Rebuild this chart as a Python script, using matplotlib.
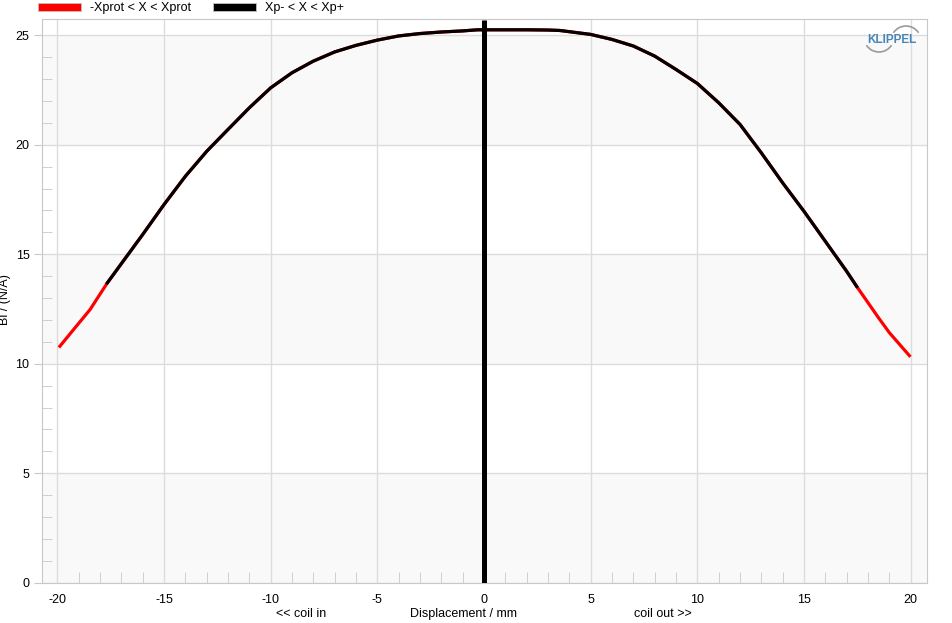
import matplotlib
matplotlib.use("Agg")
import matplotlib.pyplot as plt
from matplotlib.patches import Patch, Arc

plt.rcParams['font.family'] = ['Liberation Sans', 'DejaVu Sans']
plt.rcParams['axes.unicode_minus'] = False

# Bl(x) curve
disp = [-19.88, -19.25, -18.47, -17.66, -17, -16, -15, -14, -13, -12, -11, -10,
        -9, -8, -7, -6, -5, -4, -3, -2, -1, -0.3, 0, 1, 2, 3, 3.55, 5, 6, 7, 8,
        9, 10, 11, 12, 13, 14, 15, 16, 17, 17.47, 18.5, 19, 19.94]
bl = [10.8, 11.55, 12.47, 13.69, 14.57, 15.9, 17.27, 18.56, 19.7, 20.7, 21.69,
      22.6, 23.29, 23.82, 24.24, 24.54, 24.78, 24.97, 25.08, 25.15, 25.2, 25.25,
      25.25, 25.25, 25.25, 25.24, 25.22, 25.04, 24.81, 24.51, 24.05, 23.44, 22.8,
      21.92, 20.93, 19.63, 18.26, 16.96, 15.59, 14.22, 13.53, 12.09, 11.42, 10.37]
xp_minus = -17.66
xp_plus = 17.47
bands = [(0, 5), (10, 15), (20, 25)]
xticks = [-20, -15, -10, -5, 0, 5, 10, 15, 20]
yticks = [0, 5, 10, 15, 20, 25]

W, H = 953, 623
fig = plt.figure(figsize=(W / 100, H / 100), dpi=100)
ax = fig.add_axes([42 / W, 1 - 582.7 / H, 885.3 / W, 563.4 / H])

for lo, hi in bands:
    ax.axhspan(lo, hi, color='#f9f9f9', zorder=0, lw=0)

ax.plot(disp, bl, color='#ff0000', lw=2.3, zorder=3)
bx = [x for x in disp if xp_minus <= x <= xp_plus]
by = [y for x, y in zip(disp, bl) if xp_minus <= x <= xp_plus]
ax.plot(bx, by, color='black', lw=2.3, zorder=4)
ax.plot([0, 0], [0, 25.7], color='black', lw=3.6, zorder=5, solid_capstyle='butt')

ax.set_xlim(-20.72, 20.78)
ax.set_ylim(0, 25.73)
ax.set_xticks(xticks)
ax.set_yticks(yticks)
ax.set_xticks(range(-20, 21), minor=True)
ax.set_yticks(range(0, 26), minor=True)
ax.grid(True, which='major', color='#dcdcdc', lw=1, zorder=1)
ax.set_axisbelow(True)
for s in ax.spines.values():
    s.set_color('#c8c8c8')
ax.tick_params(axis='x', which='major', length=0, pad=8, labelsize=9)
ax.tick_params(axis='x', which='minor', direction='in', length=8, color='#c8c8c8')
ax.tick_params(axis='y', which='major', direction='out', length=6, color='#c8c8c8',
               pad=3, labelsize=9)
ax.tick_params(axis='y', which='minor', direction='in', length=7, color='#c8c8c8')

fig.text(301 / W, 1 - 614 / H, '<< coil in', ha='center', va='center', fontsize=9)
fig.text(463.8 / W, 1 - 614 / H, 'Displacement / mm', ha='center', va='center', fontsize=9)
fig.text(662.8 / W, 1 - 614 / H, 'coil out >>', ha='center', va='center', fontsize=9)
fig.text(5 / W, 1 - 300 / H, 'Bl / (N/A)', rotation=90, ha='center', va='center', fontsize=9)

handles = [Patch(facecolor='#ff0000', edgecolor='#c0c0c0', lw=0.6),
           Patch(facecolor='black', edgecolor='#c0c0c0', lw=0.6)]
fig.legend(handles, ['-Xprot < X < Xprot', 'Xp- < X < Xp+'], ncol=2,
           loc='center left', bbox_to_anchor=(38 / W, 1 - 8.5 / H),
           frameon=False, fontsize=9, handlelength=3.45, handleheight=0.65,
           handletextpad=0.72, columnspacing=1.7, borderpad=0, borderaxespad=0)

# KLIPPEL logo
fig.text(892 / W, 1 - 40 / H, 'KLIPPEL', ha='center', va='center', fontsize=8.5,
         fontweight='bold', color='#4a86b5')
fig.add_artist(Arc((906 / W, 1 - 41 / H), 30 / W, 30 / H, theta1=45, theta2=135,
                   transform=fig.transFigure, color='#9a9a9a', lw=1.2))
fig.add_artist(Arc((879 / W, 1 - 37 / H), 30 / W, 30 / H, theta1=225, theta2=315,
                   transform=fig.transFigure, color='#9a9a9a', lw=1.2))

fig.savefig('out.png', dpi=100)
